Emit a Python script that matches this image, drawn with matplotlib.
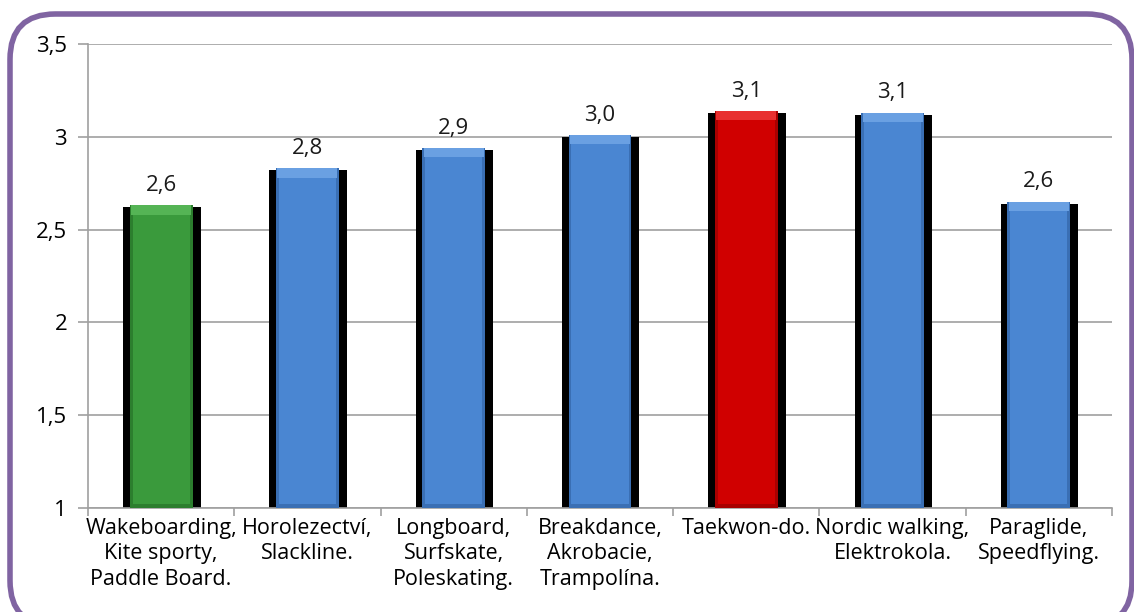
import matplotlib
matplotlib.use("Agg")
import matplotlib.pyplot as plt
from matplotlib.patches import FancyBboxPatch
import numpy as np

# data
kategorie = ["Wakeboarding,\nKite sporty,\nPaddle Board.", "Horolezectví,\nSlackline.",
             "Longboard,\nSurfskate,\nPoleskating.", "Breakdance,\nAkrobacie,\nTrampolína.",
             "Taekwon-do.", "Nordic walking,\nElektrokola.", "Paraglide,\nSpeedflying."]
hodnoty = [2.63, 2.83, 2.94, 3.01, 3.14, 3.13, 2.65]
popisky = ["2,6", "2,8", "2,9", "3,0", "3,1", "3,1", "2,6"]
barvy = ["#3a9a3c", "#4a86d2", "#4a86d2", "#4a86d2", "#d00000", "#4a86d2", "#4a86d2"]
svetle = ["#55b455", "#6aa0e2", "#6aa0e2", "#6aa0e2", "#e83030", "#6aa0e2", "#6aa0e2"]
tmave = ["#2c7e2e", "#3a6fb4", "#3a6fb4", "#3a6fb4", "#a80000", "#3a6fb4", "#3a6fb4"]
yticks = [1, 1.5, 2, 2.5, 3, 3.5]
ytick_labels = ["1", "1,5", "2", "2,5", "3", "3,5"]

plt.rcParams['font.family'] = ['Open Sans', 'DejaVu Sans']

fig = plt.figure(figsize=(11.34, 6.12), dpi=100)
ax = fig.add_axes([88/1134, 1 - 508/612, 1024/1134, 464/612])

x = np.arange(len(kategorie))
spodek = 1

# cerny stin za sloupci
ax.bar(x + 0.005, np.array(hodnoty) - spodek - 0.01, bottom=spodek, width=0.53,
       color="black", zorder=2)
# tmavsi okraj
ax.bar(x, np.array(hodnoty) - spodek, bottom=spodek, width=0.43, color=tmave, zorder=3)
# hlavni barva
ax.bar(x, np.array(hodnoty) - spodek - 0.05, bottom=spodek + 0.02, width=0.39,
       color=barvy, zorder=4)
# svetly horni okraj
ax.bar(x, [0.05] * len(x), bottom=np.array(hodnoty) - 0.05, width=0.41,
       color=svetle, zorder=4)

for xi, h, t in zip(x, hodnoty, popisky):
    ax.text(xi, h + 0.05, t, ha="center", va="bottom", fontsize=16, color="#1a1a1a")

ax.set_xlim(-0.5, len(x) - 0.5)
ax.set_ylim(1, 3.5)
ax.set_yticks(yticks)
ax.set_yticklabels(ytick_labels, fontsize=16)
ax.yaxis.grid(True, color="#a0a0a0", linewidth=1.2, zorder=0)
ax.set_axisbelow(True)

ax.set_xticks(x)
ax.set_xticklabels(kategorie, fontsize=15.5, linespacing=1.28)
ax.tick_params(axis="x", length=0, pad=7)
ax.set_xticks(np.arange(len(x) + 1) - 0.5, minor=True)
ax.tick_params(axis="x", which="minor", length=6, color="#a0a0a0", width=1.2)
ax.tick_params(axis="y", length=7, color="#a0a0a0", width=1.2, pad=8)

for s in ["top", "right"]:
    ax.spines[s].set_visible(False)
for s in ["left", "bottom"]:
    ax.spines[s].set_color("#a0a0a0")
    ax.spines[s].set_linewidth(1.2)

# fialovy ramecek
W, H = 1134, 612
ramecek = FancyBboxPatch((10 / W, 1 - 626 / H), 1122 / W, 612 / H,
                         boxstyle="round,pad=0,rounding_size=0.04",
                         transform=fig.transFigure, fill=False,
                         edgecolor="#8064a2", linewidth=4, mutation_aspect=W / H)
fig.patches.append(ramecek)

fig.savefig("out.png", dpi=100)
